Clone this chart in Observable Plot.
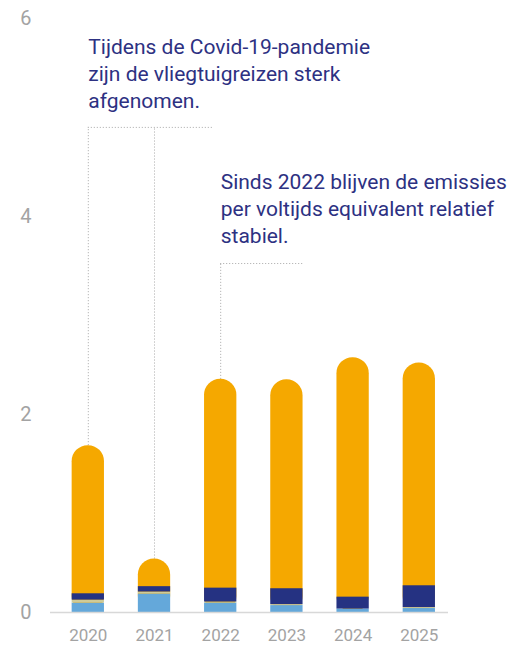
<!DOCTYPE html>
<html>
<head>
<meta charset="utf-8">
<script src="https://cdn.jsdelivr.net/npm/d3@7"></script>
<script src="https://cdn.jsdelivr.net/npm/@observablehq/plot@0.6"></script>
<style>
  html, body { margin: 0; padding: 0; background: #fff; }
  #chart svg { display: block; }
</style>
</head>
<body>
<div id="chart"></div>
<script>
// ---- data ----
const years = [2020, 2021, 2022, 2023, 2024, 2025];
const seriesNames = ["lichtblauw", "beige", "donkerblauw", "oranje"];
const lightBlue = [0.095, 0.187, 0.096, 0.070, 0.035, 0.040];
const beige     = [0.030, 0.020, 0.010, 0.010, 0.000, 0.010];
const darkBlue  = [0.064, 0.054, 0.140, 0.160, 0.120, 0.220];
const orange    = [1.496, 0.279, 2.109, 2.110, 2.419, 2.250];
const yTicks = [0, 2, 4, 6];

const annotations = [
  {text: "Tijdens de Covid-19-pandemie\nzijn de vliegtuigreizen sterk\nafgenomen.", year: 2020, y: 5.84},
  {text: "Sinds 2022 blijven de emissies\nper voltijds equivalent relatief\nstabiel.", year: 2022, y: 4.47}
];
// connector lines: level of the horizontal part, the bars it points to, and where it ends
const connectors = [
  {level: 4.90, bars: [2020, 2021], end: 2021.88},
  {level: 3.525, bars: [2022], end: 2023.25}
];

// ---- build tables ----
const colors = {lichtblauw: "#64a8da", beige: "#cfcb98", donkerblauw: "#253282", oranje: "#f5a800"};
const lower = [];
years.forEach((yr, i) => {
  lower.push({year: yr, series: "lichtblauw", value: lightBlue[i]});
  lower.push({year: yr, series: "beige", value: beige[i]});
  lower.push({year: yr, series: "donkerblauw", value: darkBlue[i]});
});
const totals = years.map((yr, i) => ({year: yr, total: lightBlue[i] + beige[i] + darkBlue[i] + orange[i]}));
const totalOf = Object.fromEntries(totals.map(d => [d.year, d.total]));

const verticals = [];
connectors.forEach(c => c.bars.forEach(b => verticals.push({year: b, y1: totalOf[b], y2: c.level})));
const horizontals = connectors.map(c => ({x1: c.bars[0], x2: c.end, y: c.level}));

const half = 0.244; // half bar width in years
const dotted = {stroke: "#a8a8a8", strokeWidth: 1, strokeDasharray: "1,2"};

const chart = Plot.plot({
  width: 526,
  height: 646,
  marginTop: 18,
  marginBottom: 34,
  marginLeft: 50,
  marginRight: 78,
  style: {fontFamily: "Roboto, 'Noto Sans', sans-serif", background: "#fff"},
  x: {domain: [2019.429, 2025.441], axis: null},
  y: {domain: [0, 6], axis: null},
  marks: [
    // connector lines
    Plot.ruleX(verticals, {x: "year", y1: "y1", y2: "y2", ...dotted}),
    Plot.ruleY(horizontals, {y: "y", x1: "x1", x2: "x2", ...dotted}),
    // orange bar (full height, rounded top)
    Plot.rectY(totals, {x1: d => d.year - half, x2: d => d.year + half, y1: 0, y2: "total", fill: colors.oranje, rx: 16}),
    // lower stacked segments
    Plot.rectY(lower, {x1: d => d.year - half, x2: d => d.year + half, y: "value", fill: d => colors[d.series]}),
    // axes
    Plot.ruleY([0], {stroke: "#d8d8d8", strokeWidth: 1.5}),
    Plot.axisY(yTicks, {tickSize: 0, tickPadding: 19, fontSize: 20, fill: "#a3a3a3", line: true, stroke: "#d8d8d8", label: null, tickFormat: d => String(d)}),
    Plot.axisX(years, {tickSize: 0, tickPadding: 16, fontSize: 17, fill: "#a3a3a3", tickFormat: d => String(d), label: null}),
    // annotations
    Plot.text(annotations, {x: "year", y: "y", text: "text", textAnchor: "start", lineAnchor: "top", lineHeight: 1.29, fontSize: 21, fill: "#2d3182"})
  ]
});
document.getElementById("chart").appendChild(chart);
</script>
</body>
</html>
